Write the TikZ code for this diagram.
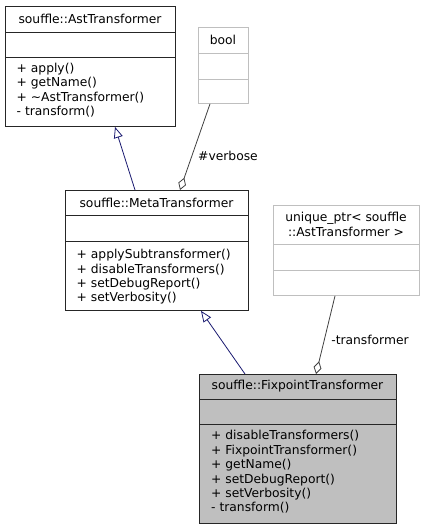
\documentclass[tikz,border=0pt]{standalone}
\usepackage{fontspec}
\setmainfont{DejaVu Sans}
\usetikzlibrary{arrows.meta}

\definecolor{edgegrey}{HTML}{404040}
\definecolor{palegrey}{HTML}{BFBFBF}
\definecolor{navyline}{HTML}{191970}

\begin{document}
\begin{tikzpicture}
[
	x=1pt,
	y=-1pt,
	font=\fontsize{12.3}{14.4}\selectfont,
	classbox/.style={draw=black!85,line width=0.9pt,inner sep=0pt,anchor=north west},
	typebox/.style={draw=palegrey,line width=0.9pt,inner sep=0pt,anchor=north west},
	sepline/.style={draw=black!85,line width=0.9pt},
	typesep/.style={draw=palegrey,line width=0.9pt},
	title/.style={inner sep=0pt,align=center},
	members/.style={inner sep=0pt,anchor=west,align=left},
	inherit/.style={navyline,line width=0.8pt,-{Triangle[open,length=11pt,width=9pt]}},
	aggregate/.style={edgegrey,line width=0.8pt,-{Diamond[open,length=13pt,width=8pt]}},
	rolename/.style={inner sep=0pt}
]

	\useasboundingbox (0,0) rectangle (425,529);

	% souffle::AstTransformer
	\node[classbox,minimum width=170pt,minimum height=120pt] (ast) at (5,6) {};
	\draw[sepline] (5,32) -- (175,32);
	\draw[sepline] (5,57) -- (175,57);
	\node[title] (asttitle) at (90,19) {souffle::AstTransformer};
	\node[members] (astops) at (16.5,90) {+ apply()\\+ getName()\\+ \textasciitilde AstTransformer()\\- transform()};

	% bool
	\node[typebox,minimum width=50pt,minimum height=76pt] (bool) at (198,27) {};
	\draw[typesep] (198,53) -- (248,53);
	\draw[typesep] (198,79) -- (248,79);
	\node[title] (booltitle) at (223,40) {bool};

	% souffle::MetaTransformer
	\node[classbox,minimum width=183pt,minimum height=120pt] (meta) at (65,190) {};
	\draw[sepline] (65,215) -- (248,215);
	\draw[sepline] (65,241) -- (248,241);
	\node[title] (metatitle) at (156.5,203) {souffle::MetaTransformer};
	\node[members] (metaops) at (76.5,277) {+ applySubtransformer()\\+ disableTransformers()\\+ setDebugReport()\\+ setVerbosity()};

	% unique_ptr< souffle::AstTransformer >
	\node[typebox,minimum width=146pt,minimum height=90pt] (uptr) at (273,205) {};
	\draw[typesep] (273,244) -- (419,244);
	\draw[typesep] (273,270) -- (419,270);
	\node[title] (uptrtitle) at (346,224.5) {unique\_ptr< souffle\\::AstTransformer >};

	% souffle::FixpointTransformer
	\node[classbox,fill=palegrey,minimum width=197pt,minimum height=149pt] (fix) at (199,374) {};
	\draw[sepline] (199,399) -- (396,399);
	\draw[sepline] (199,424) -- (396,424);
	\node[title] (fixtitle) at (297.5,386.5) {souffle::FixpointTransformer};
	\node[members] (fixops) at (211,472) {+ disableTransformers()\\+ FixpointTransformer()\\+ getName()\\+ setDebugReport()\\+ setVerbosity()\\- transform()};

	% relations
	\draw[inherit] ([xshift=70pt]meta.north west) -- ([xshift=110pt]ast.south west);
	\draw[inherit] ([xshift=46pt]fix.north west) -- ([xshift=136pt]meta.south west);
	\draw[aggregate] ([xshift=12pt]bool.south west) -- ([xshift=115pt]meta.north west);
	\draw[aggregate] ([xshift=62pt]uptr.south west) -- ([xshift=117pt]fix.north west);

	\node[rolename] (verbose) at (228,156) {\#verbose};
	\node[rolename] (transformer) at (370,340) {-transformer};

\end{tikzpicture}
\end{document}
